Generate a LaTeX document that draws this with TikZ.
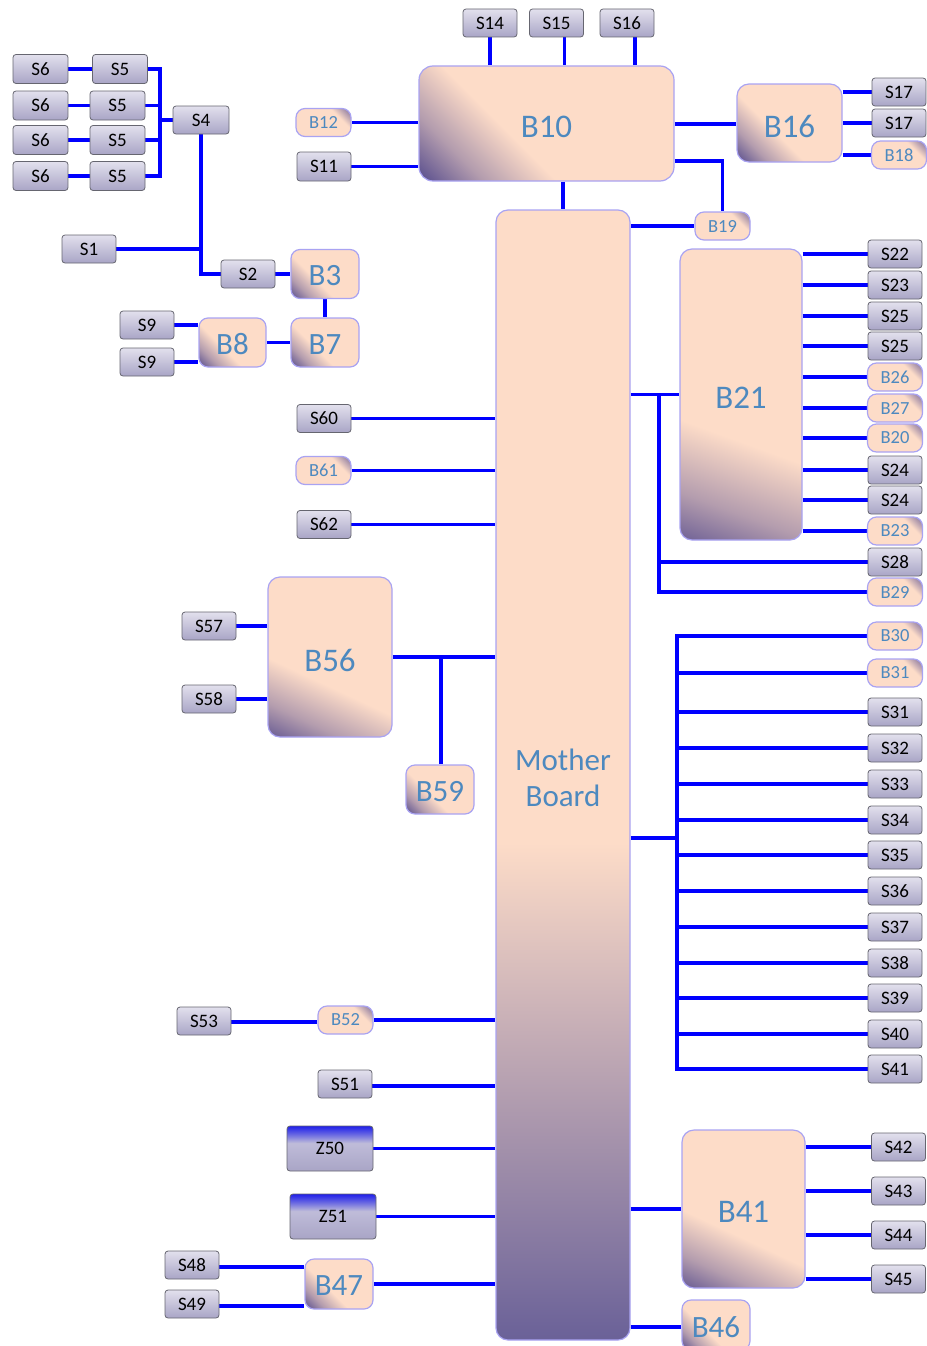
\documentclass[tikz,border=0pt]{standalone}
\usepackage{fontspec}
\setmainfont{Carlito}
\definecolor{bpeach}{HTML}{FDDCC8}
\definecolor{bpurple}{HTML}{5A4F8E}
\definecolor{mbpurple}{HTML}{6A6198}
\definecolor{bborder}{HTML}{A9A3F2}
\definecolor{btext}{HTML}{4D89BF}
\definecolor{sTopC}{HTML}{E2E0ED}
\definecolor{sBotC}{HTML}{A9A5C6}
\definecolor{sBorderC}{HTML}{666670}
\definecolor{zblue}{HTML}{1F1FEA}
\definecolor{zmid}{HTML}{BFBCD9}
\definecolor{wirec}{HTML}{0000FF}
\newcommand\lowlab[2][3pt]{\raisebox{-#1}[\height][\depth]{#2}}
\pgfdeclareverticalshading{bcorner}{100bp}{color(0bp)=(bpurple); color(15bp)=(bpurple); color(27bp)=(bpurple!45!bpeach); color(41bp)=(bpeach); color(100bp)=(bpeach)}
\pgfdeclareverticalshading{pillsh}{100bp}{color(0bp)=(bpurple); color(14bp)=(bpurple!85!bpeach); color(32bp)=(bpeach); color(100bp)=(bpeach)}
\pgfdeclareverticalshading{mbsh}{100bp}{color(0bp)=(mbpurple); color(25bp)=(mbpurple); color(47bp)=(bpeach); color(100bp)=(bpeach)}
\pgfdeclareverticalshading{zsh}{100bp}{color(0bp)=(sBotC); color(25bp)=(sBotC); color(56bp)=(zmid); color(66bp)=(zblue!55!zmid); color(75bp)=(zblue); color(100bp)=(zblue)}
\pgfdeclarelayer{bg}
\pgfsetlayers{bg,main}
\tikzset{
 sbox/.style={draw=sBorderC, line width=0.8pt, rounded corners=3pt, top color=sTopC, bottom color=sBotC, minimum width=54pt, minimum height=28pt, inner sep=0pt, font=\fontsize{19}{22}\selectfont, text=black},
 pill/.style={draw=bborder, line width=1.2pt, rounded corners=9pt, shading=pillsh, shading angle=135, minimum width=55pt, minimum height=28pt, inner sep=0pt, text=btext, font=\fontsize{18.5}{22}\selectfont},
 bbox/.style={draw=bborder, line width=1.2pt, rounded corners=11pt, shading=bcorner, shading angle=-45, inner sep=0pt, text=btext, font=\fontsize{33}{38}\selectfont},
 mbox/.style={bbox, minimum width=68pt, minimum height=49pt, rounded corners=9pt, font=\fontsize{31}{36}\selectfont},
 zbox/.style={draw=sBorderC, line width=0.8pt, rounded corners=3pt, shading=zsh, minimum width=86pt, minimum height=45pt, inner sep=0pt, font=\fontsize{19}{22}\selectfont},
 wire/.style={draw=wirec, line width=3.3pt},
}
\begin{document}
\begin{tikzpicture}[x=1pt,y=-1pt]
\useasboundingbox (0,0) rectangle (926,1346);
% ---- top left cluster
\node[sbox, minimum width=55pt, minimum height=29pt] (s6a) at (40.5,69) {S6};
\node[sbox, minimum width=55pt, minimum height=29pt] (s6b) at (40.5,105.5) {S6};
\node[sbox, minimum width=55pt, minimum height=29pt] (s6c) at (40.5,140) {S6};
\node[sbox, minimum width=55pt, minimum height=29pt] (s6d) at (40.5,176) {S6};
\node[sbox, minimum width=55pt, minimum height=29pt] (s5a) at (120,69) {S5};
\node[sbox, minimum width=55pt, minimum height=29pt] (s5b) at (117.5,105.5) {S5};
\node[sbox, minimum width=55pt, minimum height=29pt] (s5c) at (117.5,140) {S5};
\node[sbox, minimum width=55pt, minimum height=29pt] (s5d) at (117.5,176) {S5};
\node[sbox, minimum width=56pt] (s4) at (201,120) {S4};
\coordinate (j1) at (160,120);
\node[sbox] (s1) at (89,249) {S1};
\node[sbox] (s2) at (248,274) {S2};
\node[mbox] (b3) at (325,274) {\lowlab[2pt]{B3}};
\node[mbox] (b7) at (325,342.5) {\lowlab[2pt]{B7}};
\node[mbox, minimum width=67pt] (b8) at (232.5,342.5) {\lowlab[2pt]{B8}};
\node[sbox] (s9a) at (147,325) {S9};
\node[sbox] (s9b) at (147,362) {S9};
% ---- B10 cluster
\node[sbox] (s14) at (490,23) {S14};
\node[sbox] (s15) at (556.5,23) {S15};
\node[sbox] (s16) at (627,23) {S16};
\node[bbox, minimum width=255pt, minimum height=115pt, rounded corners=14pt] (b10) at (546.5,123.5) {\lowlab{B10}};
\node[pill] (b12) at (323.5,122.5) {B12};
\node[sbox, minimum height=29pt] (s11) at (324,166.5) {S11};
\node[bbox, minimum width=105pt, minimum height=78pt, rounded corners=12pt] (b16) at (789.5,123) {\lowlab{B16}};
\node[sbox] (s17a) at (899,92) {S17};
\node[sbox] (s17b) at (899,123) {S17};
\node[pill] (b18) at (899,155) {B18};
\node[pill] (b19) at (722.5,226) {B19};
\coordinate (j3) at (722.5,161);
% ---- mother board
\node[draw=bborder, line width=1.2pt, rounded corners=12pt, shading=mbsh, minimum width=134pt, minimum height=1130pt, inner sep=0pt, text=btext, align=center, font=\fontsize{31}{36}\selectfont] (mb) at (563,775) {\lowlab[6pt]{\begin{tabular}{c}Mother\\[0pt]Board\end{tabular}}};
% ---- B21 cluster
\node[bbox, minimum width=122pt, minimum height=291pt, rounded corners=12pt, shading angle=-20] (b21) at (741,394.5) {\lowlab{B21}};
\node[sbox] (r1) at (895,254) {S22};
\node[sbox] (r2) at (895,285) {S23};
\node[sbox] (r3) at (895,316) {S25};
\node[sbox] (r4) at (895,346) {S25};
\node[pill] (r5) at (895,377) {B26};
\node[pill] (r6) at (895,408) {B27};
\node[pill] (r7) at (895,438) {B20};
\node[sbox] (r8) at (895,470) {S24};
\node[sbox] (r9) at (895,500) {S24};
\node[pill] (r10) at (895,531) {B23};
\node[sbox] (s28) at (895,562) {S28};
\node[pill] (b29) at (895,592) {B29};
\coordinate (j4) at (659,394.5);
% ---- right bus
\coordinate (j5) at (677,838);
\node[pill] (q1) at (895,636) {B30};
\node[pill] (q2) at (895,673) {B31};
\node[sbox] (q3) at (895,712) {S31};
\node[sbox] (q4) at (895,748) {S32};
\node[sbox] (q5) at (895,784) {S33};
\node[sbox] (q6) at (895,820) {S34};
\node[sbox] (q7) at (895,855) {S35};
\node[sbox] (q8) at (895,891) {S36};
\node[sbox] (q9) at (895,927) {S37};
\node[sbox] (q10) at (895,963) {S38};
\node[sbox] (q11) at (895,998) {S39};
\node[sbox] (q12) at (895,1034) {S40};
\node[sbox] (q13) at (895,1069) {S41};
% ---- B41 cluster
\node[bbox, minimum width=123pt, minimum height=158pt, rounded corners=12pt, shading angle=-25] (b41) at (743.5,1209) {\lowlab{B41}};
\node[sbox] (s42) at (898.5,1147) {S42};
\node[sbox] (s43) at (898.5,1191) {S43};
\node[sbox] (s44) at (898.5,1235) {S44};
\node[sbox] (s45) at (898.5,1279) {S45};
\node[mbox, minimum height=50pt] (b46) at (716,1325) {\lowlab[2pt]{B46}};
% ---- left side
\node[sbox] (s60) at (324,418.5) {S60};
\node[pill] (b61) at (323.5,470.5) {B61};
\node[sbox] (s62) at (324,524.5) {S62};
\node[bbox, minimum width=124pt, minimum height=160pt, rounded corners=12pt, shading angle=-25] (b56) at (330,657) {\lowlab{B56}};
\node[sbox] (s57) at (209,626) {S57};
\node[sbox] (s58) at (209,699) {S58};
\node[mbox] (b59) at (440,789.5) {\lowlab[2pt]{B59}};
\coordinate (j6) at (441,657);
\node[sbox] (s53) at (204,1021) {S53};
\node[pill] (b52) at (345.5,1020) {B52};
\node[sbox] (s51) at (345,1084) {S51};
\node[zbox] (z50) at (330,1148.5) {Z50};
\node[zbox] (z51) at (333,1216.5) {Z51};
\node[mbox, minimum height=50pt] (b47) at (339,1284) {\lowlab[2pt]{B47}};
\node[sbox] (s48) at (192,1265) {S48};
\node[sbox] (s49) at (192,1304) {S49};
% ---- connectors
\begin{pgfonlayer}{bg}
\foreach \n in {a,b,c,d}{\draw[wire] (s6\n.east) -- (s5\n.west); \draw[wire] (s5\n.east) -| (j1);}
\draw[wire] (j1) -- (s4.west);
\draw[wire] (s4.south) |- (s2.west);
\draw[wire] (s1.east) -- (s1.east -| s4.south);
\draw[wire] (s2.east) -- (b3.west);
\draw[wire] (b3.south) -- (b7.north);
\draw[wire] (b8.east) -- (b7.west);
\draw[wire] (s9a.east) -- (s9a.east -| b8.west);
\draw[wire] (s9b.east) -- (s9b.east -| b8.west);
\draw[wire] (s14.south) -- (s14.south |- b10.north);
\draw[wire] ([xshift=8pt]s15.south) -- ([xshift=8pt]s15.south |- b10.north);
\draw[wire] ([xshift=8pt]s16.south) -- ([xshift=8pt]s16.south |- b10.north);
\draw[wire] (b12.east) -- (b12.east -| b10.west);
\draw[wire] (s11.east) -- (s11.east -| b10.west);
\draw[wire] ([yshift=-1pt]b16.west -| b10.east) -- ([yshift=-1pt]b16.west);
\draw[wire] (j3 -| b10.east) -- (j3) -- (b19.north);
\draw[wire] (mb.north |- b10.south) -- (mb.north);
\draw[wire] (b19.west -| mb.east) -- (b19.west);
\foreach \n in {s17a,s17b,b18}{\draw[wire] (\n.west -| b16.east) -- (\n.west);}
\draw[wire] (b21.west -| mb.east) -- (b21.west);
\foreach \n in {r1,r2,r3,r4,r5,r6,r7,r8,r9,r10}{\draw[wire] (\n.west -| b21.east) -- (\n.west);}
\draw[wire] (j4) |- (s28.west);
\draw[wire] (j4) |- (b29.west);
\draw[wire] (j5 -| mb.east) -- (j5);
\foreach \n in {q1,q2,q3,q4,q5,q6,q7,q8,q9,q10,q11,q12,q13}{\draw[wire] (j5) |- (\n.west);}
\draw[wire] (b41.west -| mb.east) -- (b41.west);
\foreach \n in {s42,s43,s44,s45}{\draw[wire] (\n.west -| b41.east) -- (\n.west);}
\draw[wire] ([yshift=-2pt]b46.west -| mb.east) -- ([yshift=-2pt]b46.west);
\foreach \n in {s60,b61,s62}{\draw[wire] (\n.east) -- (\n.east -| mb.west);}
\draw[wire] (b56.east) -- (b56.east -| mb.west);
\draw[wire] (j6) -- (j6 |- b59.north);
\draw[wire] (s57.east) -- (s57.east -| b56.west);
\draw[wire] (s58.east) -- (s58.east -| b56.west);
\draw[wire] ([yshift=-1pt]s53.east) -- ([yshift=-1pt]s53.east -| b52.west);
\draw[wire] (b52.east) -- (b52.east -| mb.west);
\draw[wire] ([yshift=-2pt]s51.east) -- ([yshift=-2pt]s51.east -| mb.west);
\draw[wire] (z50.east) -- (z50.east -| mb.west);
\draw[wire] (z51.east) -- (z51.east -| mb.west);
\draw[wire] (b47.east) -- (b47.east -| mb.west);
\draw[wire] ([yshift=-2pt]s48.east) -- ([yshift=-2pt]s48.east -| b47.west);
\draw[wire] ([yshift=-2pt]s49.east) -- ([yshift=-2pt]s49.east -| b47.west);
\end{pgfonlayer}
\end{tikzpicture}
\end{document}
